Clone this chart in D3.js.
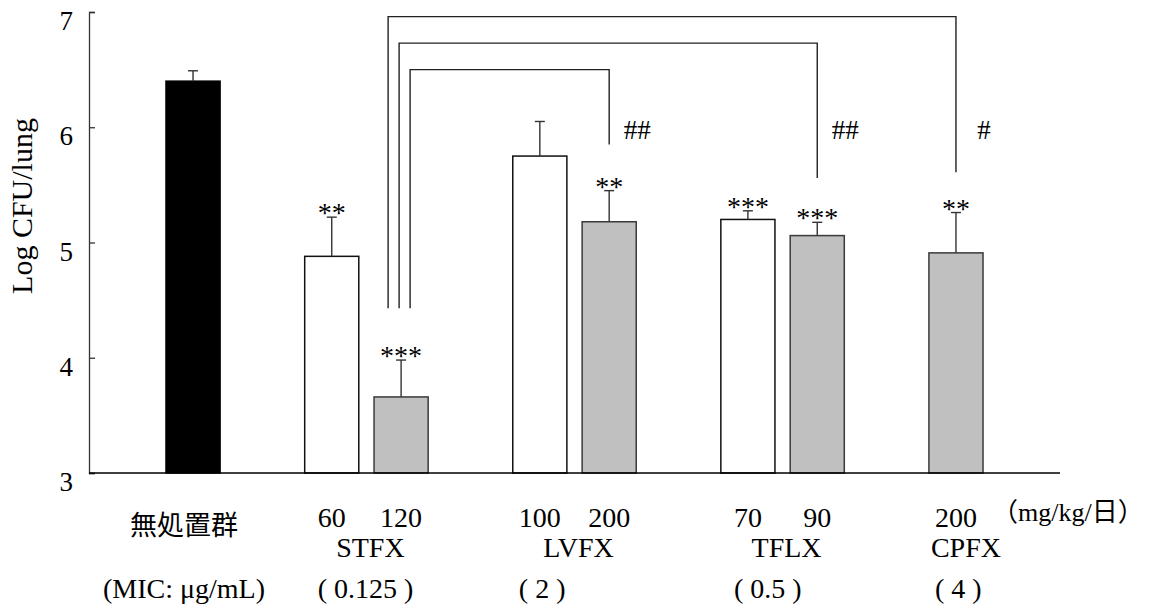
<!DOCTYPE html>
<html>
<head>
<meta charset="utf-8">
<script src="https://cdn.jsdelivr.net/npm/d3@7"></script>
<style>
  body { margin: 0; background: #fff; }
  svg text { font-family: "Liberation Serif", "Times New Roman", serif; fill: #000; }
  .cjk { font-family: "Noto Sans CJK JP", sans-serif; }
</style>
</head>
<body>
<div id="wrapper"></div>
<script>
// data
const slots = ["pad0", "ctrl", "gap1", "STFX-60", "STFX-120", "gap2", "LVFX-100", "LVFX-200",
               "gap3", "TFLX-70", "TFLX-90", "gap4", "CPFX-200", "pad1"]
const barKeys = ["ctrl", "STFX-60", "STFX-120", "LVFX-100", "LVFX-200", "TFLX-70", "TFLX-90", "CPFX-200"]
const means = [6.40, 4.88, 3.66, 5.75, 5.18, 5.20, 5.06, 4.91]
const errors = [0.09, 0.34, 0.32, 0.30, 0.27, 0.075, 0.115, 0.35]
const fillType = ["black", "white", "gray", "white", "gray", "white", "gray", "gray"]
const stars = ["", "**", "***", "", "**", "***", "***", "**"]
const doses = ["", "60", "120", "100", "200", "70", "90", "200"]

const drugs = ["STFX", "LVFX", "TFLX", "CPFX"]
const drugBars = [["STFX-60", "STFX-120"], ["LVFX-100", "LVFX-200"], ["TFLX-70", "TFLX-90"], ["CPFX-200"]]
const mics = ["( 0.125 )", "( 2 )", "( 0.5 )", "( 4 )"]

// significance brackets (STFX 120 vs others), levels in y units
const brFrom = ["STFX-120", "STFX-120", "STFX-120"]
const brTo = ["LVFX-200", "TFLX-90", "CPFX-200"]
const brLevel = [6.50, 6.73, 6.96]
const brLeftEnd = [4.43, 4.43, 4.43]
const brRightEnd = [5.85, 5.56, 5.61]
const brLabel = ["##", "##", "#"]

const yTicks = [3, 4, 5, 6, 7]

const dimensions = {
  width: 1149,
  height: 612,
  margin: { top: 12, right: 89, bottom: 139, left: 89 },
}
dimensions.boundedWidth = dimensions.width - dimensions.margin.left - dimensions.margin.right
dimensions.boundedHeight = dimensions.height - dimensions.margin.top - dimensions.margin.bottom

const svg = d3.select("#wrapper").append("svg")
  .attr("width", dimensions.width)
  .attr("height", dimensions.height)

const bounds = svg.append("g")
  .attr("transform", `translate(${dimensions.margin.left},${dimensions.margin.top})`)

const x = d3.scaleBand()
  .domain(slots)
  .range([0, dimensions.boundedWidth])
  .paddingInner(0.22)
  .paddingOuter(0.11)

const y = d3.scaleLinear()
  .domain([3, 7])
  .range([dimensions.boundedHeight, 0])

const cx = k => x(k) + x.bandwidth() / 2

const bars = barKeys.map((k, i) => ({
  key: k, mean: means[i], err: errors[i], type: fillType[i], stars: stars[i], dose: doses[i]
}))

const fills = { black: "#000", white: "#fff", gray: "#c0c0c0" }
const strokes = { black: "#000", white: "#111", gray: "#3a3a3a" }

// y axis, ticks pointing inward
const yAxis = bounds.append("g")
  .call(d3.axisRight(y).tickValues(yTicks).tickSize(6).tickFormat(""))
yAxis.select(".domain").attr("stroke", "#333").attr("stroke-width", 1.3)
yAxis.selectAll(".tick line").attr("stroke", "#333").attr("stroke-width", 1.3)

bounds.append("g")
  .selectAll("text")
  .data(yTicks)
  .join("text")
  .attr("x", -16)
  .attr("y", d => y(d) + 18)
  .attr("text-anchor", "end")
  .style("font-size", "27px")
  .text(d => d)

svg.append("text")
  .attr("transform", "translate(32, 206) rotate(-90)")
  .attr("text-anchor", "middle")
  .style("font-size", "30px")
  .text("Log CFU/lung")

// bars
bounds.append("g")
  .selectAll("rect")
  .data(bars)
  .join("rect")
  .attr("x", d => x(d.key))
  .attr("width", x.bandwidth())
  .attr("y", d => y(d.mean))
  .attr("height", d => y(3) - y(d.mean))
  .attr("fill", d => fills[d.type])
  .attr("stroke", d => strokes[d.type])
  .attr("stroke-width", 1.5)

// error bars
const errG = bounds.append("g")
  .attr("stroke", "#333")
  .attr("stroke-width", 1.4)
errG.selectAll(".stem")
  .data(bars)
  .join("line")
  .attr("class", "stem")
  .attr("x1", d => cx(d.key))
  .attr("x2", d => cx(d.key))
  .attr("y1", d => y(d.mean))
  .attr("y2", d => y(d.mean + d.err))
errG.selectAll(".cap")
  .data(bars)
  .join("line")
  .attr("class", "cap")
  .attr("x1", d => cx(d.key) - 5)
  .attr("x2", d => cx(d.key) + 5)
  .attr("y1", d => y(d.mean + d.err))
  .attr("y2", d => y(d.mean + d.err))

// x axis baseline
bounds.append("line")
  .attr("x1", 0)
  .attr("x2", dimensions.boundedWidth)
  .attr("y1", y(3))
  .attr("y2", y(3))
  .attr("stroke", "#000")
  .attr("stroke-width", 1.5)

// significance stars
bounds.append("g")
  .selectAll("text")
  .data(bars.filter(d => d.stars))
  .join("text")
  .attr("x", d => cx(d.key))
  .attr("y", d => y(d.mean + d.err) + 5)
  .attr("text-anchor", "middle")
  .style("font-size", "28px")
  .text(d => d.stars)

// brackets
const brackets = brFrom.map((f, i) => ({
  from: f, to: brTo[i], level: brLevel[i], leftEnd: brLeftEnd[i], rightEnd: brRightEnd[i], label: brLabel[i]
}))
const brG = bounds.append("g")
brG.selectAll("path")
  .data(brackets)
  .join("path")
  .attr("fill", "none")
  .attr("stroke", "#222")
  .attr("stroke-width", 1.4)
  .attr("d", (d, i) => {
    const x0 = cx(d.from) + 9 - i * 11
    const x1 = cx(d.to)
    return `M${x0},${y(d.leftEnd)}V${y(d.level)}H${x1}V${y(d.rightEnd)}`
  })
brG.selectAll("text")
  .data(brackets)
  .join("text")
  .attr("x", d => cx(d.to) + 28)
  .attr("y", y(5.9))
  .attr("text-anchor", "middle")
  .style("font-size", "27px")
  .text(d => d.label)

// bottom labels
const labels = svg.append("g")
  .attr("transform", `translate(${dimensions.margin.left},0)`)

labels.append("text")
  .attr("class", "cjk")
  .attr("x", cx("ctrl") - 9)
  .attr("y", 535)
  .attr("text-anchor", "middle")
  .style("font-size", "27px")
  .text("無処置群")

const doseText = labels.selectAll(".dose")
  .data(bars.filter(d => d.dose))
  .join("text")
  .attr("class", "dose")
  .attr("x", d => cx(d.key))
  .attr("y", 527)
  .attr("text-anchor", "middle")
  .style("font-size", "28px")
  .text(d => d.dose)

const groupCenter = keys => d3.mean(keys, k => cx(k)) + (keys.length === 1 ? 10 : 4)

labels.selectAll(".drug")
  .data(drugs)
  .join("text")
  .attr("class", "drug")
  .attr("x", (d, i) => groupCenter(drugBars[i]))
  .attr("y", 557)
  .attr("text-anchor", "middle")
  .style("font-size", "28px")
  .text(d => d)

// MIC labels start where the first dose label of the group starts
const doseStart = {}
doseText.each(function(d) { doseStart[d.key] = this.getBBox().x })

labels.selectAll(".mic")
  .data(mics)
  .join("text")
  .attr("class", "mic")
  .attr("x", (d, i) => doseStart[drugBars[i][0]])
  .attr("y", 598)
  .attr("text-anchor", "start")
  .style("font-size", "28px")
  .text(d => d)

labels.append("text")
  .attr("x", cx("ctrl") - 9)
  .attr("y", 598)
  .attr("text-anchor", "middle")
  .style("font-size", "28px")
  .text("(MIC: μg/mL)")

const unit = svg.append("text")
  .attr("x", 992)
  .attr("y", 521)
  .style("font-size", "26px")
unit.append("tspan").attr("class", "cjk").text("（")
unit.append("tspan").text("mg/kg/")
unit.append("tspan").attr("class", "cjk").text("日）")
</script>
</body>
</html>
